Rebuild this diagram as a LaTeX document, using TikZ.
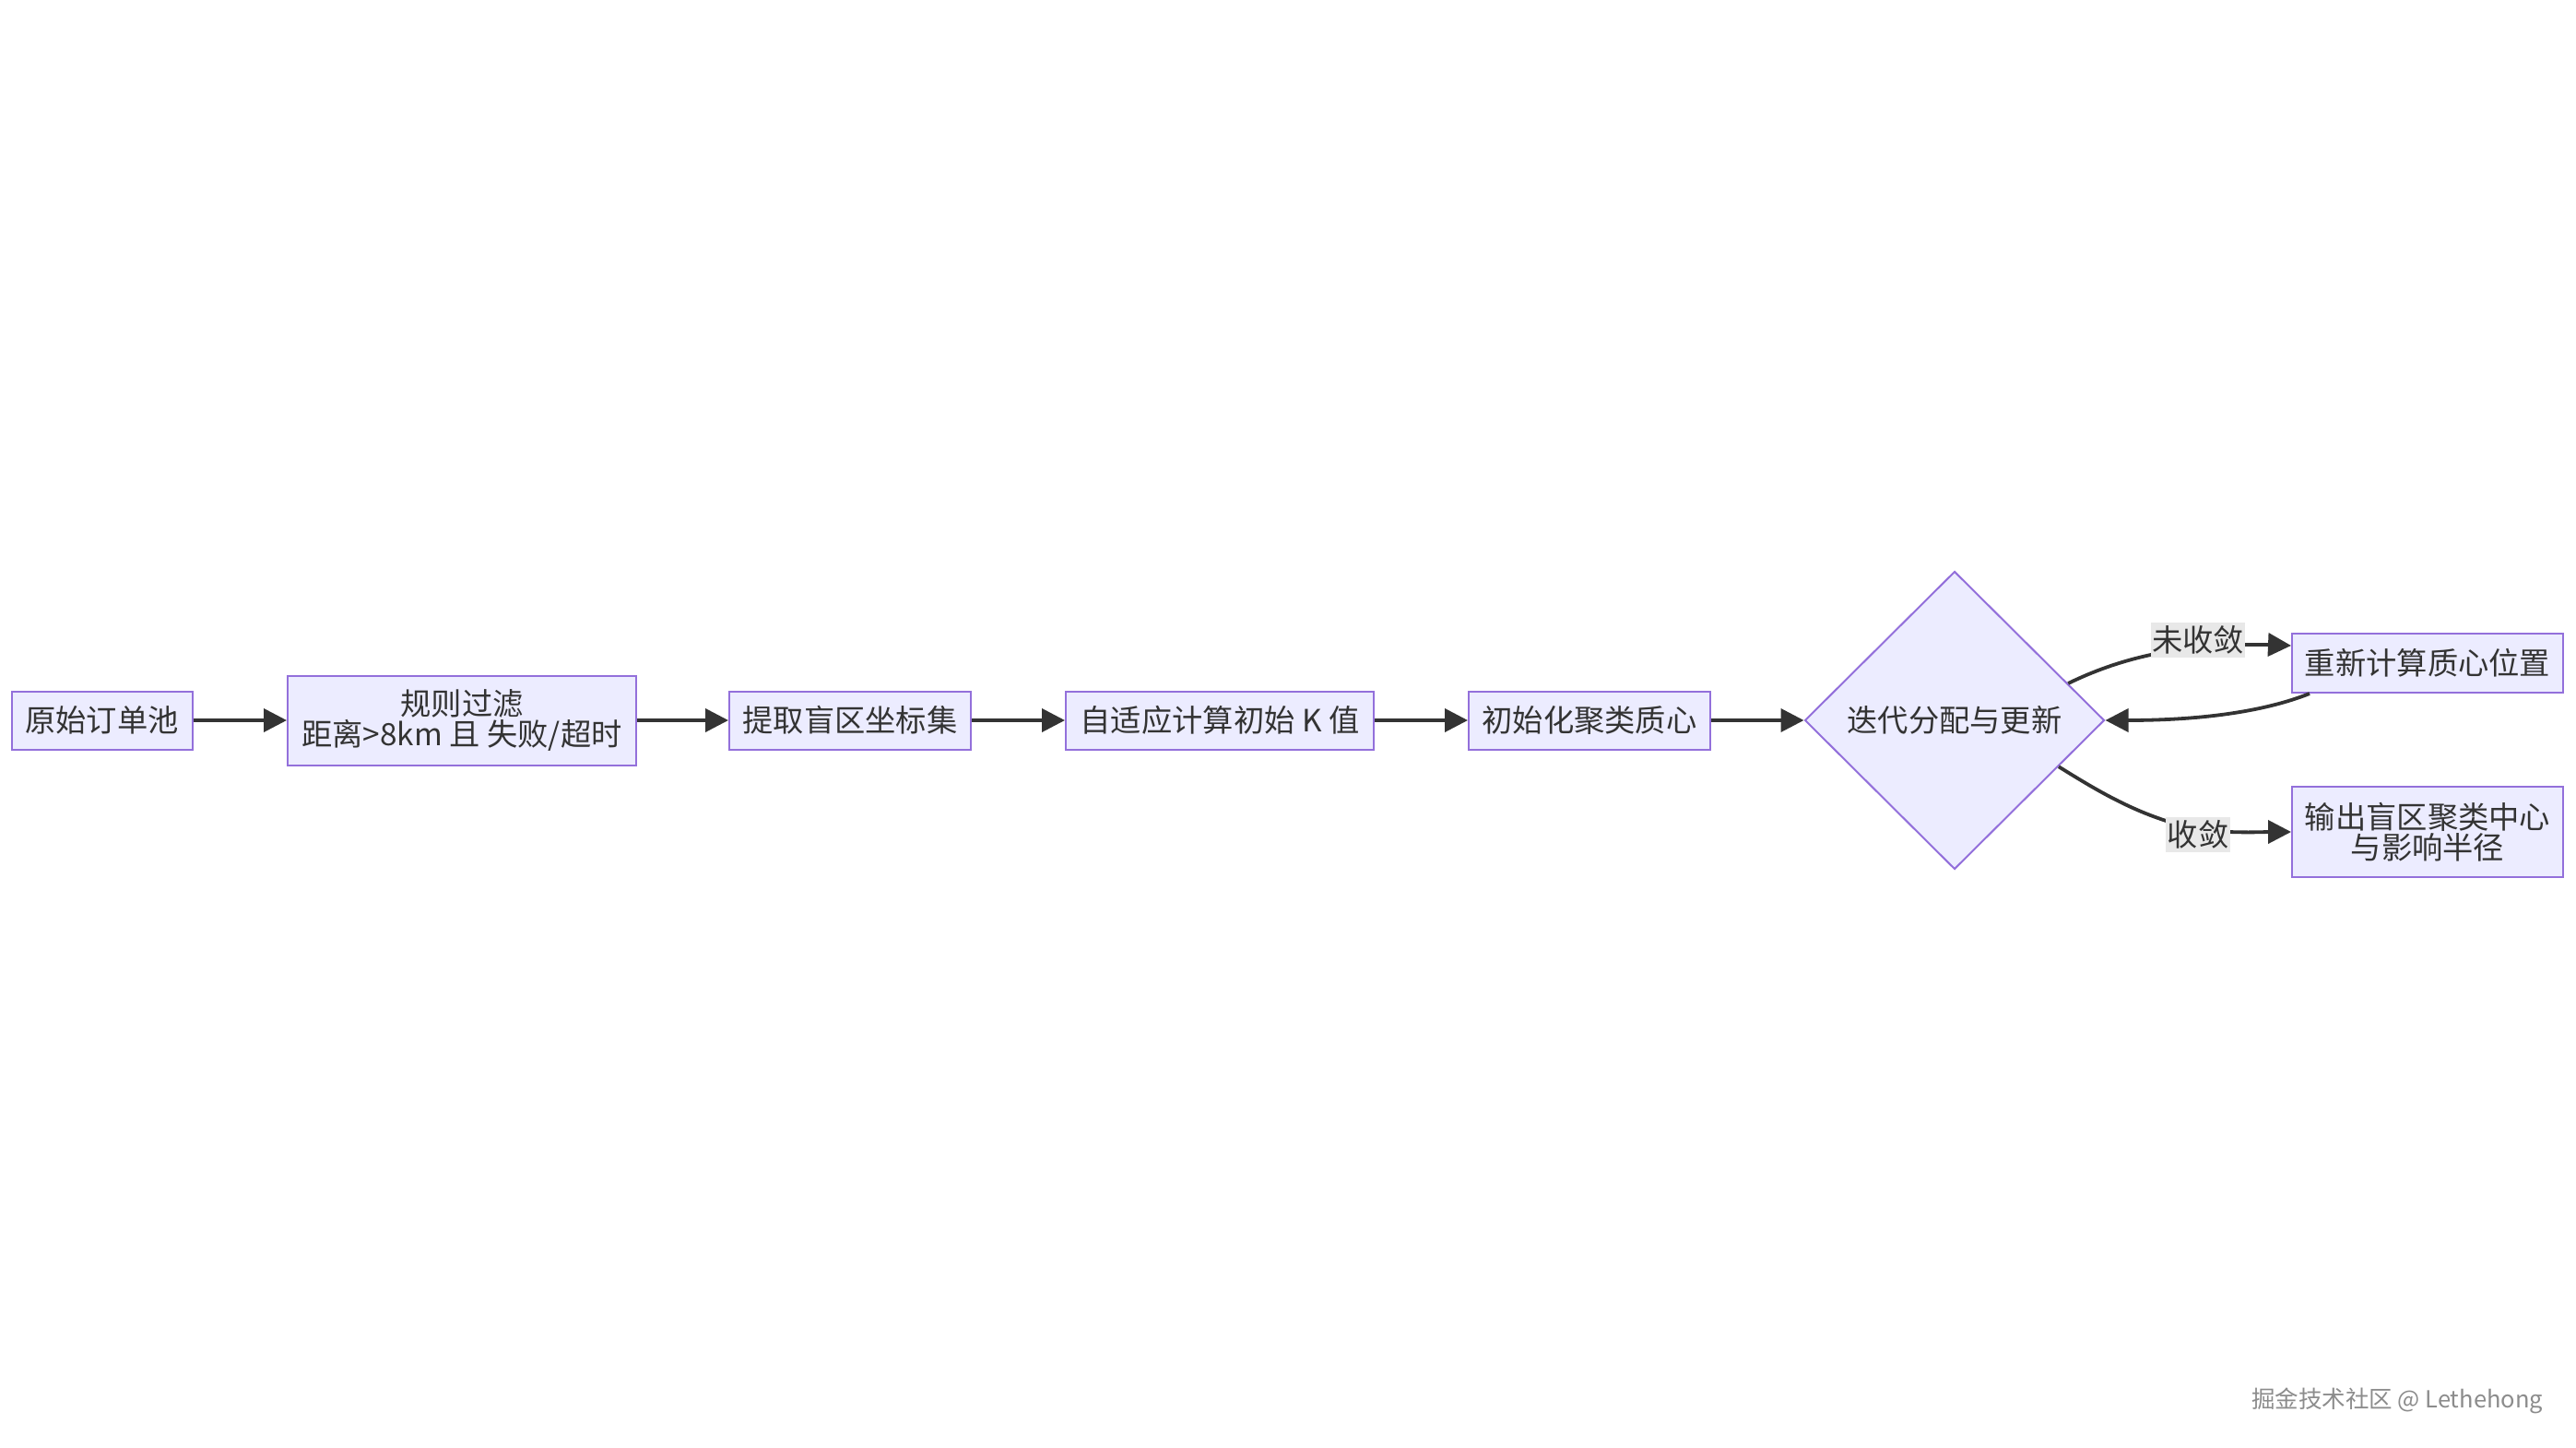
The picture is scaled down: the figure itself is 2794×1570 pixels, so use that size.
\documentclass[tikz,border=0pt]{standalone}
\usepackage{fontspec}
\setmainfont{Noto Sans CJK SC}
\usetikzlibrary{arrows.meta,shapes.geometric}
\definecolor{nodefill}{HTML}{ECECFF}
\definecolor{nodestroke}{HTML}{9370DB}
\definecolor{edgecol}{HTML}{333333}
\definecolor{labbg}{HTML}{E8E8E8}
\definecolor{txt}{HTML}{333333}
\definecolor{wm}{HTML}{8C8C8C}
\begin{document}
\begin{tikzpicture}[x=1pt,y=-1pt,
  box/.style={draw=nodestroke, fill=nodefill, line width=2pt, inner sep=0pt, text=txt, align=center, font=\fontsize{33.3}{33}\selectfont},
  dec/.style={diamond, aspect=1, draw=nodestroke, fill=nodefill, line width=2pt, inner sep=0pt, minimum width=325pt, minimum height=323pt, text=txt, font=\fontsize{33.3}{33}\selectfont},
  flow/.style={draw=edgecol, line width=3.8pt, -{Triangle[length=25pt,width=25pt]}},
  elabel/.style={fill=labbg, text=txt, inner sep=1.5pt, minimum height=38pt, font=\fontsize{33.3}{33}\selectfont}
]
\path[use as bounding box, fill=white] (0,0) rectangle (2794,1570);

\node[box, minimum width=196pt, minimum height=63pt] (b1) at (110.5,781) {原始订单池};
\node[box, minimum width=378pt, minimum height=97pt] (b2) at (501,781) {规则过滤\\距离>8km 且 失败/超时};
\node[box, minimum width=262pt, minimum height=63pt] (b3) at (922,781) {提取盲区坐标集};
\node[box, minimum width=334pt, minimum height=63pt] (b4) at (1323,781) {自适应计算初始 K 值};
\node[box, minimum width=262pt, minimum height=63pt] (b5) at (1724,781) {初始化聚类质心};
\node[dec] (dia) at (2120,781) {迭代分配与更新};
\node[box, minimum width=294pt, minimum height=64pt] (b6) at (2633,719) {重新计算质心位置};
\node[box, minimum width=294pt, minimum height=98pt] (b7) at (2633,902) {输出盲区聚类中心\\与影响半径};

\coordinate (l1) at (2384,702);
\coordinate (l2) at (2384,899);

\draw[flow] (b1.east) -- (b2.west);
\draw[flow] (b2.east) -- (b3.west);
\draw[flow] (b3.east) -- (b4.west);
\draw[flow] (b4.east) -- (b5.west);
\draw[flow] (b5.east) -- (dia.west);
\draw[flow] (dia.18) .. controls +(45,-22) and +(-50,5) .. (l1) .. controls +(45,-4) and +(-25,-1) .. ([yshift=19pt]b6.west);
\draw[flow] ([xshift=20pt]b6.south west) .. controls +(-45,18) and +(110,0) .. (dia.east);
\draw[flow] (dia.-24) .. controls +(45,28) and +(-60,-12) .. (l2) .. controls +(35,5) and +(-30,0) .. ([yshift=0pt]b7.west);

\node[elabel] (lab1) at (2384,693.5) {未收敛};
\node[elabel] (lab2) at (2384,905) {收敛};

\node[text=wm, font=\fontsize{25.5}{27}\selectfont] (wmk) at (2600,1519) {掘金技术社区 @ Lethehong};
\end{tikzpicture}
\end{document}
